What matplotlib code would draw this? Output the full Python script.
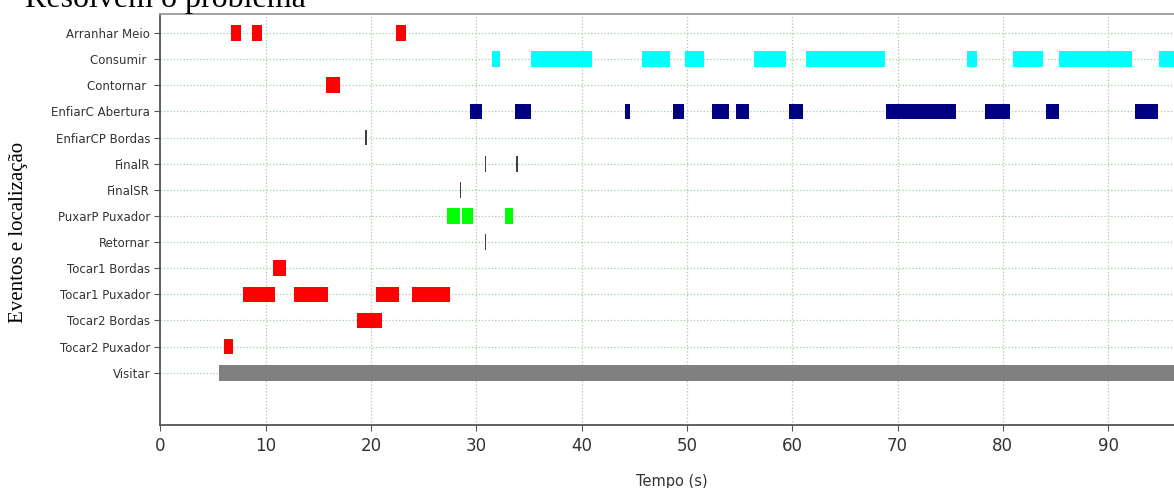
import matplotlib
matplotlib.use("Agg")
import matplotlib.pyplot as plt
from matplotlib import font_manager

# Event intervals (start, duration) in seconds, one list per row
arranhar_meio = [(6.7, 0.9), (8.7, 0.9), (22.4, 0.9)]
consumir = [(31.5, 0.75), (35.2, 5.8), (45.7, 2.7), (49.8, 1.8), (56.4, 3.0),
            (61.35, 7.5), (76.6, 0.95), (81.0, 2.8), (85.3, 7.0), (94.85, 2.5)]
contornar = [(15.7, 1.35)]
enfiarc_abertura = [(29.4, 1.1), (33.7, 1.5), (44.15, 0.45), (48.65, 1.05),
                    (52.4, 1.55), (54.65, 1.25), (59.65, 1.35), (68.9, 6.65),
                    (78.35, 2.3), (84.1, 1.2), (92.55, 2.15)]
enfiarcp_bordas = [(19.45, 0.12)]
final_r = [(30.8, 0.12), (33.8, 0.12)]
final_sr = [(28.45, 0.12)]
puxarp_puxador = [(27.2, 1.25), (28.65, 1.0), (32.7, 0.8)]
retornar = [(30.8, 0.12)]
tocar1_bordas = [(10.65, 1.25)]
tocar1_puxador = [(7.85, 3.0), (12.65, 3.3), (20.5, 2.15), (23.9, 3.55)]
tocar2_bordas = [(18.65, 2.35)]
tocar2_puxador = [(6.05, 0.8)]
visitar = [(5.55, 94.45)]

# top to bottom
labels = ["Arranhar Meio", "Consumir ", "Contornar ", "EnfiarC Abertura",
          "EnfiarCP Bordas", "FinalR", "FinalSR", "PuxarP Puxador", "Retornar",
          "Tocar1 Bordas", "Tocar1 Puxador", "Tocar2 Bordas", "Tocar2 Puxador",
          "Visitar"]
rows = [arranhar_meio, consumir, contornar, enfiarc_abertura, enfiarcp_bordas,
        final_r, final_sr, puxarp_puxador, retornar, tocar1_bordas,
        tocar1_puxador, tocar2_bordas, tocar2_puxador, visitar]
colors = ["#ff0000", "#00ffff", "#ff0000", "#000080", "#404040", "#404040",
          "#404040", "#00ff00", "#404040", "#ff0000", "#ff0000", "#ff0000",
          "#ff0000", "#808080"]


def pick_font(names):
    for name in names:
        try:
            font_manager.findfont(name, fallback_to_default=False)
            return name
        except Exception:
            pass
    return "DejaVu Sans"


narrow = pick_font(["Liberation Sans Narrow", "DejaVu Sans"])
serif = pick_font(["Liberation Serif", "DejaVu Serif"])

fig = plt.figure(figsize=(11.74, 4.88), dpi=100)
ax = fig.add_axes([0.1367, 0.1291, 0.8718, 0.8422])

n = len(labels)
for i, (segs, c) in enumerate(zip(rows, colors)):
    y = n - 1 - i
    ax.broken_barh(segs, (y - 0.3, 0.6), facecolors=c, edgecolor="none")

ax.set_yticks(range(n - 1, -1, -1))
ax.set_yticklabels(labels, fontsize=8.5, color="#333333")
ax.set_ylim(-2.0, n - 1 + 0.73)
ax.set_xlim(0, 97.2)
ax.set_xticks(range(0, 100, 10))
ax.tick_params(axis="x", labelsize=12, colors="#555555", labelcolor="#333333",
               length=4, pad=5)
ax.tick_params(axis="y", length=4, colors="#555555", labelcolor="#333333")
for lab in ax.get_xticklabels():
    lab.set_family(narrow)

ax.grid(True, color="#a6cca6", linestyle=":", linewidth=0.9)
ax.set_axisbelow(True)
for side in ["left", "bottom"]:
    ax.spines[side].set_color("#555555")
    ax.spines[side].set_linewidth(1.3)
ax.spines["top"].set_color("#999999")
ax.spines["top"].set_linewidth(1.3)

ax.set_xlabel("Tempo (s)", fontsize=10.5, family=narrow, color="#333333",
              labelpad=13)
fig.text(19 / 1174, 0.5236, "Eventos e localização", rotation=90,
         family=serif, fontsize=15, ha="center", va="center")
fig.text(25 / 1174, 1 - 7 / 488, "Resolvem o problema", family=serif,
         fontsize=23, ha="left", va="baseline")

fig.savefig("out.png", dpi=100)
